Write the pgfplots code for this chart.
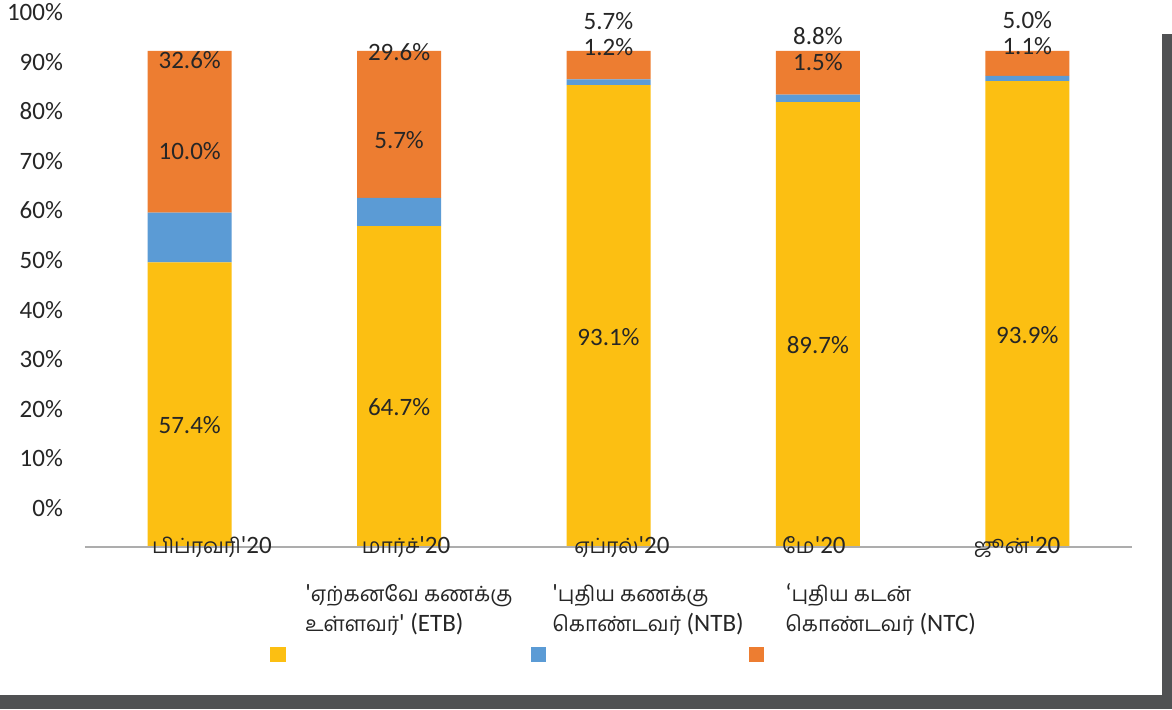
\documentclass[border=0pt]{standalone}
\usepackage{pgfplots}
\pgfplotsset{compat=1.18}
\usepackage{fontspec}
\setmainfont{Carlito}
\newfontfamily\tamil[Script=Tamil, Scale=0.84]{Hind Madurai}
\definecolor{cY}{HTML}{FCBF12}
\definecolor{cB}{HTML}{5B9BD5}
\definecolor{cO}{HTML}{ED7D31}
\definecolor{txt}{HTML}{262626}
\definecolor{axl}{HTML}{ADADAD}
\definecolor{shadow}{HTML}{505153}
\newcommand{\q}{\textquotesingle}
\newcommand{\legtwo}[3]{\vtop{\hbox to #1{\vrule height 12pt width 0pt #2\hfil}\hbox to #1{#3\hfil}}}
\pgfplotsset{
  sqA/.style={legend image code/.code={\fill[##1,overlay] (-17.5pt,-23pt) rectangle (-9.5pt,-30.5pt);}},
  sqB/.style={legend image code/.code={\fill[##1,overlay] (-10.5pt,-23pt) rectangle (-3pt,-30.5pt);}},
  sqC/.style={legend image code/.code={\fill[##1,overlay] (-18pt,-23pt) rectangle (-10.5pt,-30.5pt);}},
}

\begin{document}
\begin{tikzpicture}[font=\fontsize{12.5}{14.8}\selectfont, text=txt]
\path[use as bounding box, fill=white] (-42.5pt,-81pt) rectangle (543.5pt,273.5pt);
\fill[shadow] (-42.5pt,-74pt) rectangle (543.5pt,-81pt);
\fill[shadow] (538.5pt,256.5pt) rectangle (543.5pt,-81pt);
\begin{axis}[
  axis on top,
  scale only axis, width=523.5pt, height=273.5pt,
  xmin=-0.5, xmax=4.5, ymin=0, ymax=110.28,
  ybar stacked, bar width=42pt,
  axis lines*=left,
  y axis line style={draw=none},
  x axis line style={axl, line width=0.75pt},
  xtick={0.1065,1.033,2.064,2.981,3.951},
  xticklabels={{\tamil பிப்ரவரி}\q20,{\tamil மார்ச்}\q20,{\tamil ஏப்ரல்}\q20,{\tamil மே}\q20,{\tamil ஜூன்}\q20},
  xticklabel style={anchor=base, yshift=-3pt, text=txt},
  ytick={7.86,17.86,27.86,37.86,47.86,57.86,67.86,77.86,87.86,97.86,107.86},
  yticklabels={0\%,10\%,20\%,30\%,40\%,50\%,60\%,70\%,80\%,90\%,100\%},
  yticklabel style={anchor=east, xshift=-7.5pt, text=txt},
  /pgf/number format/assume math mode=true,
  major tick length=0pt,
  tick style={draw=none},
  clip=false,
  legend columns=3,
  legend style={at={(0.21012,-0.05484)}, anchor=north west, draw=none, fill=none,
    inner sep=0pt, column sep=0pt, row sep=0pt, cells={anchor=base west},
    nodes={inner sep=0pt}},
]
\addplot[fill=cY, draw=none, sqA]
  coordinates {(0,57.4) (1,64.7) (2,93.1) (3,89.7) (4,93.9)};
\addlegendentry{\legtwo{123.5pt}{\q{\tamil ஏற்கனவே கணக்கு}}{{\tamil உள்ளவர்}\q{} (ETB)}}
\addplot[fill=cB, draw=none, sqB]
  coordinates {(0,10.0) (1,5.7) (2,1.2) (3,1.5) (4,1.1)};
\addlegendentry{\legtwo{116.5pt}{\q{\tamil புதிய கணக்கு}}{{\tamil கொண்டவர்} (NTB)}}
\addplot[fill=cO, draw=none, sqC]
  coordinates {(0,32.6) (1,29.6) (2,5.7) (3,8.8) (4,5.0)};
\addlegendentry{\legtwo{100pt}{‘{\tamil புதிய கடன்}}{{\tamil கொண்டவர்} (NTC)}}
% data label anchors
\coordinate (a1) at (axis cs:0,24.6);
\coordinate (a2) at (axis cs:0,79.8);
\coordinate (a3) at (axis cs:0,98.2);
\coordinate (b1) at (axis cs:1,28.2);
\coordinate (b2) at (axis cs:1,82.1);
\coordinate (b3) at (axis cs:1,99.8);
\coordinate (c1) at (axis cs:2,42.3);
\coordinate (c2) at (axis cs:2,100.8);
\coordinate (c3) at (axis cs:2,106.0);
\coordinate (d1) at (axis cs:3,40.7);
\coordinate (d2) at (axis cs:3,97.8);
\coordinate (d3) at (axis cs:3,103.0);
\coordinate (e1) at (axis cs:4,42.7);
\coordinate (e2) at (axis cs:4,101.0);
\coordinate (e3) at (axis cs:4,106.3);
\end{axis}
\node at (a1) {57.4\%};
\node at (a2) {10.0\%};
\node at (a3) {32.6\%};
\node at (b1) {64.7\%};
\node at (b2) {5.7\%};
\node at (b3) {29.6\%};
\node at (c1) {93.1\%};
\node at (c2) {1.2\%};
\node at (c3) {5.7\%};
\node at (d1) {89.7\%};
\node at (d2) {1.5\%};
\node at (d3) {8.8\%};
\node at (e1) {93.9\%};
\node at (e2) {1.1\%};
\node at (e3) {5.0\%};
\end{tikzpicture}
\end{document}
